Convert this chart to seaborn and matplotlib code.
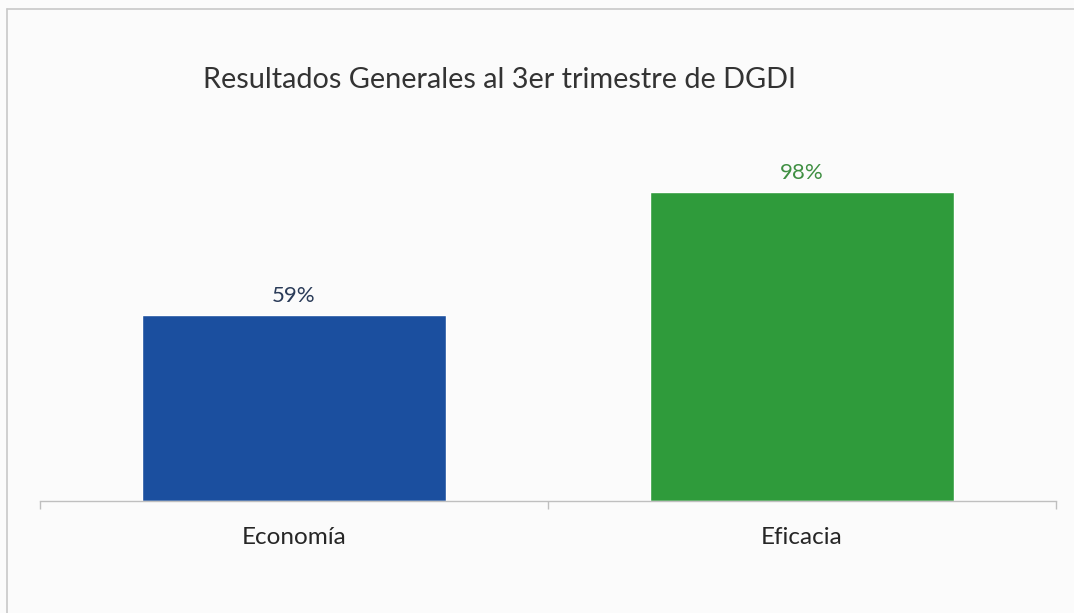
import matplotlib
matplotlib.use("Agg")
import matplotlib.pyplot as plt
import seaborn as sns
import pandas as pd
from matplotlib.lines import Line2D

categories = ["Economía", "Eficacia"]
values = [0.59, 0.98]
value_labels = ["59%", "98%"]
title = "Resultados Generales al 3er trimestre de DGDI"

bar_colors = ["#1b4f9f", "#2f9b3b"]
label_colors = ["#2a3b58", "#3f8f42"]

sns.set_theme(style="white")
plt.rcParams["font.family"] = ["Lato", "DejaVu Sans"]

df = pd.DataFrame({"cat": categories, "val": values})

W, H = 1074, 613
fig = plt.figure(figsize=(W / 100, H / 100), dpi=100, facecolor="#fbfbfb")
ax = fig.add_axes([40 / W, (H - 501) / H, (1056 - 40) / W, 378 / H])
ax.set_facecolor("none")

sns.barplot(data=df, x="cat", y="val", hue="cat", palette=bar_colors,
            width=0.6, legend=False, ax=ax, saturation=1)

ax.set_ylim(0, 1.2)
ax.set_xlim(-0.5, 1.5)
ax.set_yticks([])
ax.set_xlabel("")
ax.set_ylabel("")
for s in ["top", "right", "left"]:
    ax.spines[s].set_visible(False)
ax.spines["bottom"].set_color("#bfbfbf")
ax.spines["bottom"].set_linewidth(1.0)

ax.set_xticks([-0.5, 0.5, 1.5], minor=True)
ax.tick_params(axis="x", which="minor", length=6, color="#bfbfbf", width=1, bottom=True)
ax.tick_params(axis="x", which="major", length=0, pad=19, labelsize=17.5, labelcolor="#262626")

for i, (v, lab) in enumerate(zip(values, value_labels)):
    ax.text(i, v + 0.03, lab, ha="center", va="bottom", fontsize=16,
            color=label_colors[i])

fig.text(203 / W, 1 - 80 / H, title, ha="left", va="center", fontsize=20.8,
         color="#333333")

# page frame: top and left lines only
fig.lines.append(Line2D([7 / W, 1.0], [1 - 9 / H, 1 - 9 / H], transform=fig.transFigure,
                        color="#c8c8c8", linewidth=1.2))
fig.lines.append(Line2D([7 / W, 7 / W], [0.0, 1 - 9 / H], transform=fig.transFigure,
                        color="#c8c8c8", linewidth=1.2))

fig.savefig("out.png", dpi=100, facecolor=fig.get_facecolor())
